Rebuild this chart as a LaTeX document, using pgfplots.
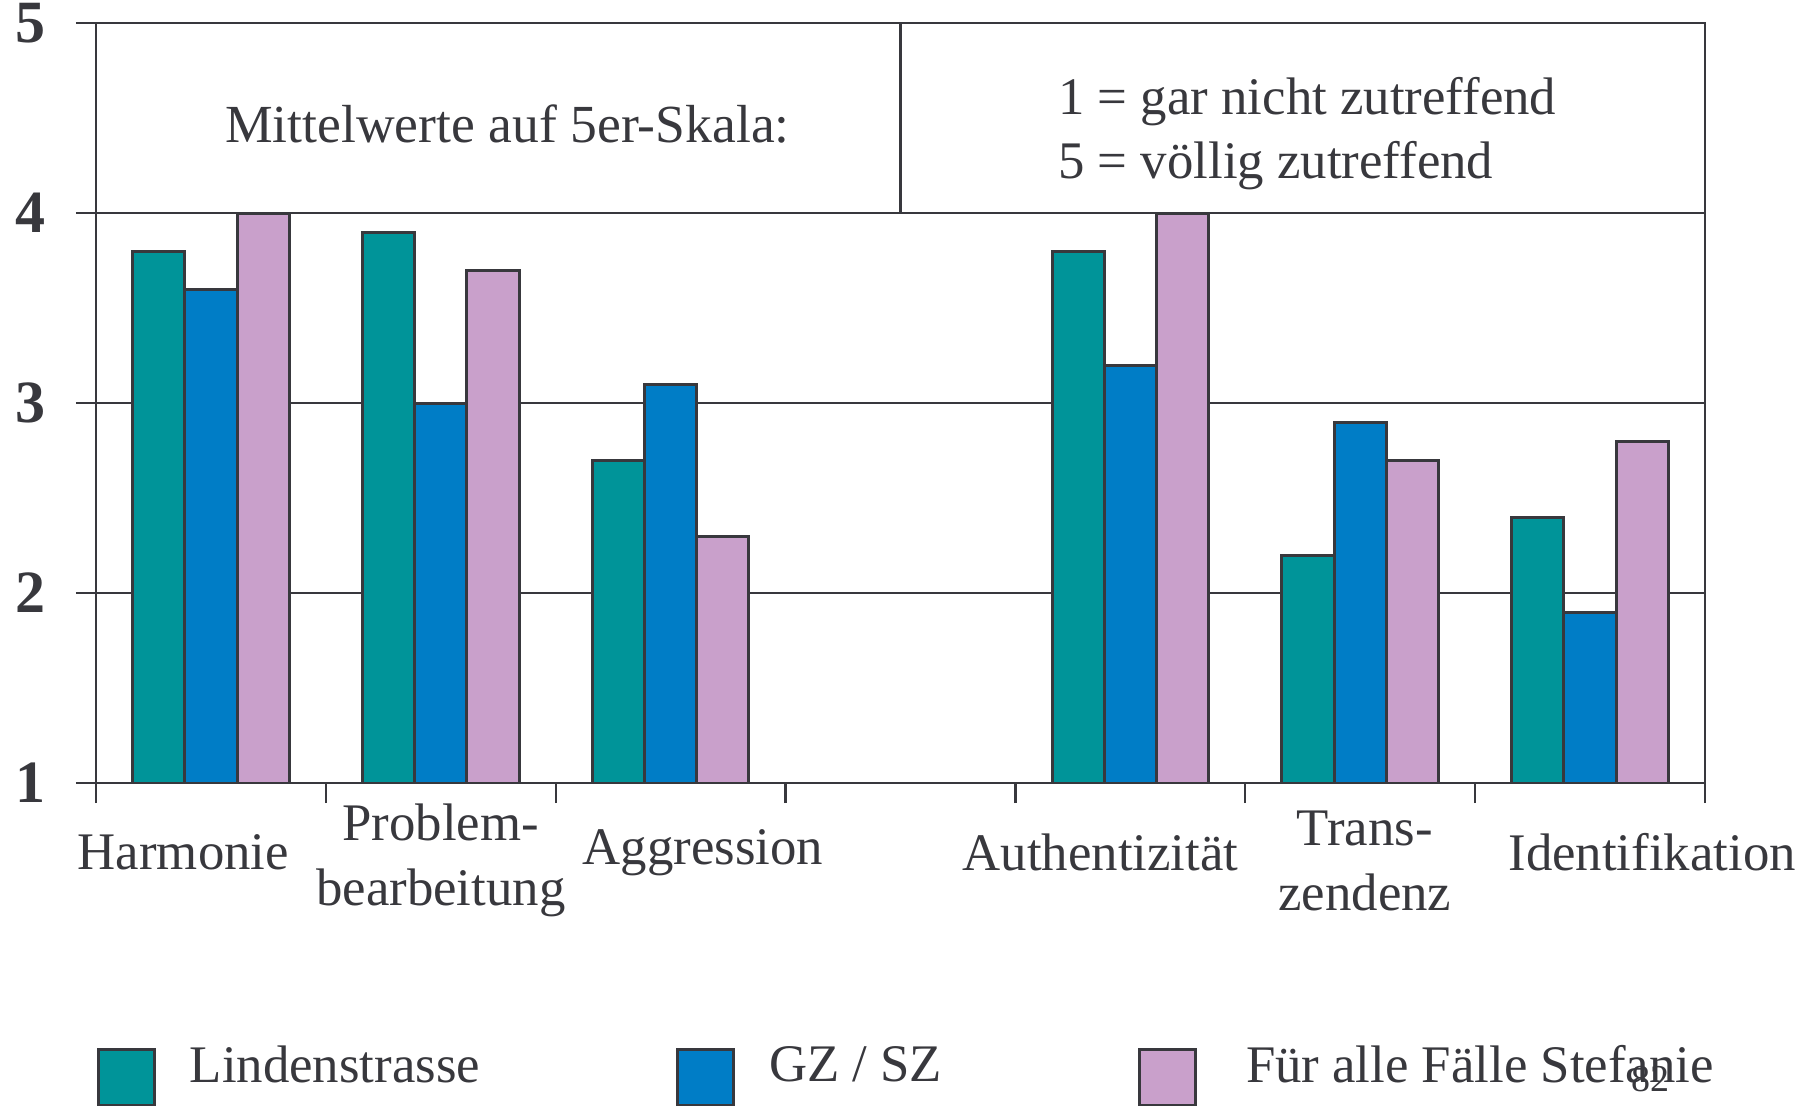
\documentclass[border=0pt]{standalone}
\usepackage{fontspec}
\setmainfont{Liberation Serif}
\usepackage{pgfplots}
\pgfplotsset{compat=1.18}
\definecolor{cteal}{HTML}{009499}
\definecolor{cblue}{HTML}{007DC6}
\definecolor{cpink}{HTML}{C9A0CB}
\definecolor{edge}{HTML}{38383D}
\definecolor{txt}{HTML}{38383D}
\pgfplotsset{sq legend/.style={legend image code/.code={\draw[##1] (0pt,-9.5pt) rectangle (14pt,4.5pt);}}}
\begin{document}
\color{txt}
\begin{tikzpicture}
\path[use as bounding box] (-24pt,-80.5pt) rectangle (430pt,195.75pt);
\begin{axis}[
  name=ax, scale only axis, width=402.25pt, height=190pt,
  xmin=-0.5, xmax=6.5, ymin=1, ymax=5,
  ytick={1,2,3,4,5},
  ymajorgrids, grid style={line width=0.6pt, draw=edge},
  axis line style={line width=0.6pt, draw=edge},
  tick align=outside, tick pos=left, major tick length=5pt,
  every tick/.style={line width=0.6pt, draw=edge},
  xtick={-0.12,1,2.14,3.87,5.02,6.27},
  xticklabels={Harmonie,\rule{0pt}{13pt}Problem-\\bearbeitung,Aggression,Authentizität,\rule{0pt}{13pt}Trans-\\zendenz,Identifikation},
  major x tick style={draw=none},
  extra x ticks={-0.5,0.5,1.5,2.5,3.5,4.5,5.5,6.5},
  extra x tick labels={},
  extra x tick style={major x tick style={draw=edge, line width=0.6pt}},
  xticklabel style={align=center, anchor=center, yshift=-12.4pt, font=\fontsize{13.2}{16.3}\selectfont},
  yticklabel style={font=\fontsize{15}{15}\selectfont\bfseries, xshift=-4pt},
  /pgf/number format/assume math mode=true,
  legend columns=3,
  legend style={at={(0,-0.334)}, anchor=north west, draw=none, fill=none, inner sep=0pt,
    font=\fontsize{13.2}{15.5}\selectfont,
    /tikz/every odd column/.append style={column sep=6.5pt},
    /tikz/every even column/.append style={column sep=47pt}},
  legend cell align=left,
]
\addplot[ybar, bar width=0.227, bar shift=-0.227, fill=cteal, draw=edge, line width=0.75pt, sq legend]
  coordinates {(0,3.8) (1,3.9) (2,2.7) (4,3.8) (5,2.2) (6,2.4)};
\addlegendentry{Lindenstrasse}
\addplot[ybar, bar width=0.227, bar shift=0, fill=cblue, draw=edge, line width=0.75pt, sq legend]
  coordinates {(0,3.6) (1,3.0) (2,3.1) (4,3.2) (5,2.9) (6,1.9)};
\addlegendentry{GZ / SZ}
\addplot[ybar, bar width=0.227, bar shift=0.227, fill=cpink, draw=edge, line width=0.75pt, sq legend]
  coordinates {(0,4.0) (1,3.7) (2,2.3) (4,4.0) (5,2.7) (6,2.8)};
\addlegendentry{\hspace{3.7pt}Für alle Fälle Stefanie}
\draw[edge, line width=0.6pt] (axis cs:3,4) -- (axis cs:3,5);
\node[font=\fontsize{13.4}{16}\selectfont] at (axis cs:1.29,4.47) {Mittelwerte auf 5er-Skala:};
\node[anchor=west, align=left, font=\fontsize{13.2}{16}\selectfont] at (axis cs:3.625,4.42)
  {1 = gar nicht zutreffend\\5 = völlig zutreffend};
\end{axis}
\node[font=\fontsize{9.5}{10}\selectfont] at (388.5pt,-74pt) {82};
\end{tikzpicture}
\end{document}
